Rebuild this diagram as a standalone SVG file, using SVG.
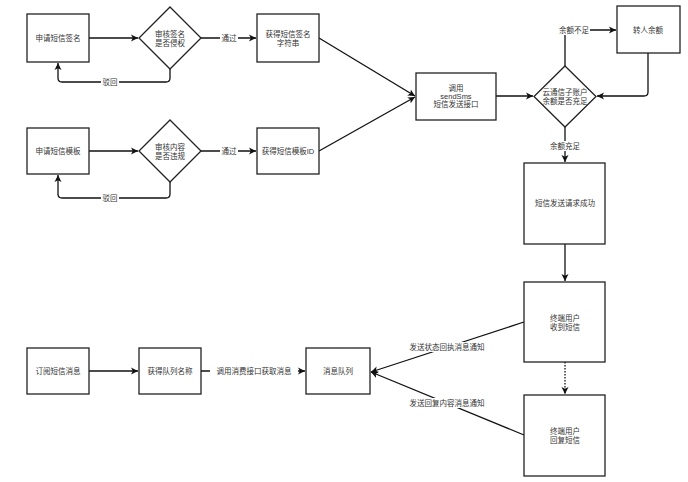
<svg xmlns="http://www.w3.org/2000/svg" width="688" height="482" viewBox="0 0 688 482">
<defs>
<marker id="arr" markerWidth="8" markerHeight="8" refX="7" refY="4" orient="auto" markerUnits="userSpaceOnUse">
<path d="M0,0.5 L7,4 L0,7.5 L1.8,4 Z" fill="#111"/>
</marker>
<style>
.box{fill:#fff;stroke:#222;stroke-width:1.3}
.t{font-family:"Liberation Sans","Noto Sans CJK SC",sans-serif;font-size:7.5px;fill:#333;text-anchor:middle;dominant-baseline:central}
.e{fill:none;stroke:#111;stroke-width:1.3}
.lb{fill:#fff}
</style>
</defs>
<rect width="688" height="482" fill="#fff"/>
<g id="connectors">
<path class="e" d="M89,38 L138,38" marker-end="url(#arr)"/>
<path class="e" d="M201,38 L256,38" marker-end="url(#arr)"/>
<path class="e" d="M170,69 L170,78 Q170,82 166,82 L62,82 Q58,82 58,78 L58,63" marker-end="url(#arr)"/>
<path class="e" d="M89,151 L138,151" marker-end="url(#arr)"/>
<path class="e" d="M201,151 L256,151" marker-end="url(#arr)"/>
<path class="e" d="M170,182 L170,194 Q170,198 166,198 L62,198 Q58,198 58,194 L58,175" marker-end="url(#arr)"/>
<path class="e" d="M319,38 L415,96" marker-end="url(#arr)"/>
<path class="e" d="M319,151 L415,97" marker-end="url(#arr)"/>
<path class="e" d="M496,96 L533,96" marker-end="url(#arr)"/>
<path class="e" d="M565,66 L565,30 L616,30" marker-end="url(#arr)"/>
<path class="e" d="M648,53 L648,92 Q648,96 644,96 L597,96" marker-end="url(#arr)"/>
<path class="e" d="M565,127 L565,162" marker-end="url(#arr)"/>
<path class="e" d="M565,244 L565,281" marker-end="url(#arr)"/>
<path class="e" d="M565,362 L565,394" stroke-width="1" stroke-dasharray="1.5,1.5" marker-end="url(#arr)"/>
<path class="e" d="M524,322 L371,372" marker-end="url(#arr)"/>
<path class="e" d="M524,435 L371,372" marker-end="url(#arr)"/>
<path class="e" d="M89,371 L138,371" marker-end="url(#arr)"/>
<path class="e" d="M201,371 L305,371" marker-end="url(#arr)"/>
<rect class="lb" x="220" y="33" width="18" height="10"/><text class="t" x="229" y="38">通过</text>
<rect class="lb" x="101" y="77" width="18" height="10"/><text class="t" x="110" y="82">驳回</text>
<rect class="lb" x="220" y="146" width="18" height="10"/><text class="t" x="229" y="151">通过</text>
<rect class="lb" x="101" y="193" width="18" height="10"/><text class="t" x="110" y="198">驳回</text>
<rect class="lb" x="559" y="25" width="31" height="10"/><text class="t" x="574" y="30">余额不足</text>
<rect class="lb" x="549" y="141" width="32" height="10"/><text class="t" x="565" y="146">余额充足</text>
<rect class="lb" x="210" y="366" width="88" height="10"/><text class="t" x="254" y="371">调用消费接口获取消息</text>
<rect class="lb" x="408" y="342" width="78" height="10"/><text class="t" x="447" y="347">发送状态回执消息通知</text>
<rect class="lb" x="408" y="398" width="78" height="10"/><text class="t" x="447" y="403">发送回复内容消息通知</text>
</g>
<g id="n1"><rect class="box" x="27" y="14" width="62" height="48"/><text class="t" x="58" y="38">申请短信签名</text></g>
<g id="n2"><path class="box" d="M170,7 L201,38 L170,69 L139,38 Z"/><text class="t" x="170" y="34">审核签名</text><text class="t" x="170" y="43">是否侵权</text></g>
<g id="n3"><rect class="box" x="257" y="14" width="62" height="48"/><text class="t" x="288" y="34">获得短信签名</text><text class="t" x="288" y="43">字符串</text></g>
<g id="n4"><rect class="box" x="27" y="128" width="62" height="46"/><text class="t" x="58" y="151">申请短信模板</text></g>
<g id="n5"><path class="box" d="M170,120 L201,151 L170,182 L139,151 Z"/><text class="t" x="170" y="147">审核内容</text><text class="t" x="170" y="156">是否违规</text></g>
<g id="n6"><rect class="box" x="257" y="128" width="62" height="46"/><text class="t" x="288" y="151">获得短信模板ID</text></g>
<g id="n7"><rect class="box" x="416" y="73" width="80" height="47"/><text class="t" x="456" y="88">调用</text><text class="t" x="456" y="96">sendSms</text><text class="t" x="456" y="104">短信发送接口</text></g>
<g id="n8"><path class="box" d="M565,66 L596,96.5 L565,127 L534,96.5 Z"/><text class="t" x="565" y="92">云通信子账户</text><text class="t" x="565" y="101">余额是否充足</text></g>
<g id="n9"><rect class="box" x="617" y="6" width="63" height="47"/><text class="t" x="648" y="30">转人余额</text></g>
<g id="n10"><rect class="box" x="524" y="163" width="81" height="81"/><text class="t" x="565" y="203">短信发送请求成功</text></g>
<g id="n11"><rect class="box" x="524" y="282" width="81" height="80"/><text class="t" x="565" y="318">终端用户</text><text class="t" x="565" y="327">收到短信</text></g>
<g id="n12"><rect class="box" x="524" y="395" width="81" height="81"/><text class="t" x="565" y="431">终端用户</text><text class="t" x="565" y="440">回复短信</text></g>
<g id="n13"><rect class="box" x="27" y="348" width="62" height="46"/><text class="t" x="58" y="371">订阅短信消息</text></g>
<g id="n14"><rect class="box" x="139" y="348" width="62" height="46"/><text class="t" x="170" y="371">获得队列名称</text></g>
<g id="n15"><rect class="box" x="306" y="348" width="64" height="46"/><text class="t" x="338" y="371">消息队列</text></g>
</svg>
